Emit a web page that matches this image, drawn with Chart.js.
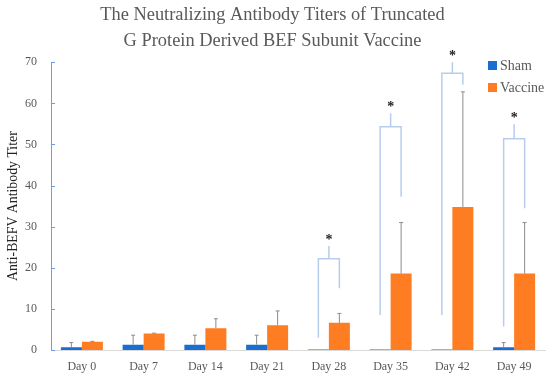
<!DOCTYPE html>
<html>
<head>
<meta charset="utf-8">
<script src="https://cdn.jsdelivr.net/npm/chart.js@4"></script>
<style>
  body { margin: 0; background: #fff; }
  #wrap { position: relative; width: 550px; height: 379px; }
  .legend { position: absolute; left: 488px; font: 14px "Liberation Serif", serif; color: #595959; }
  .legend span { display: inline-block; width: 9px; height: 9px; margin-right: 3px; }
</style>
</head>
<body>
<div id="wrap">
  <canvas id="myChart" width="550" height="379"></canvas>
  <div class="legend" style="top:58px"><span style="background:#1a6ecf"></span>Sham</div>
  <div class="legend" style="top:80px"><span style="background:#fe7d22"></span>Vaccine</div>
</div>
<script>
const days = ["Day 0", "Day 7", "Day 14", "Day 21", "Day 28", "Day 35", "Day 42", "Day 49"];
const sham = [0.65, 1.3, 1.3, 1.3, 0.15, 0.15, 0.15, 0.65];
const shamErrTop = [1.8, 3.6, 3.6, 3.6, null, null, null, 1.8];
const vaccine = [2.0, 4.0, 5.3, 6.0, 6.6, 18.6, 34.8, 18.6];
const vaccineErrTop = [2.1, 4.1, 7.6, 9.5, 8.9, 31.0, 62.8, 31.0];

// significance brackets (values on the y scale)
const bracketTop = [null, null, null, null, 22.2, 54.3, 67.3, 51.4];
const bracketLeftEnd = [null, null, null, null, 3.0, 8.5, 8.5, 5.7];
const bracketRightEnd = [null, null, null, null, 15.0, 37.3, 64.5, 34.5];
const stemTop = [null, null, null, null, 25.3, 57.6, 70.0, 54.9];

const serif = "'Liberation Serif', serif";

const annotate = {
  id: "annotate",
  afterDatasetsDraw(chart) {
    const ctx = chart.ctx;
    const y = chart.scales.y;
    const shamBars = chart.getDatasetMeta(0).data;
    const vacBars = chart.getDatasetMeta(1).data;
    ctx.save();

    // error bars
    ctx.strokeStyle = "#8c8c8c";
    ctx.lineWidth = 1;
    const drawErr = (bars, vals, tops) => {
      bars.forEach((bar, i) => {
        if (tops[i] == null) return;
        const y0 = y.getPixelForValue(vals[i]);
        const y1 = y.getPixelForValue(tops[i]);
        ctx.beginPath();
        ctx.moveTo(bar.x, y0);
        ctx.lineTo(bar.x, y1);
        ctx.moveTo(bar.x - 2, y1);
        ctx.lineTo(bar.x + 2, y1);
        ctx.stroke();
      });
    };
    drawErr(shamBars, sham, shamErrTop);
    drawErr(vacBars, vaccine, vaccineErrTop);

    // brackets + stars
    ctx.strokeStyle = "#b7cdee";
    ctx.lineWidth = 1.5;
    ctx.fillStyle = "#222";
    ctx.font = "bold 14px " + serif;
    ctx.textAlign = "center";
    ctx.textBaseline = "middle";
    for (let i = 0; i < days.length; i++) {
      if (bracketTop[i] == null) continue;
      const xl = shamBars[i].x;
      const xr = vacBars[i].x;
      const xm = (xl + xr) / 2;
      const yt = y.getPixelForValue(bracketTop[i]);
      const ys = y.getPixelForValue(stemTop[i]);
      ctx.beginPath();
      ctx.moveTo(xl, y.getPixelForValue(bracketLeftEnd[i]));
      ctx.lineTo(xl, yt);
      ctx.lineTo(xr, yt);
      ctx.lineTo(xr, y.getPixelForValue(bracketRightEnd[i]));
      ctx.moveTo(xm, yt);
      ctx.lineTo(xm, ys);
      ctx.stroke();
      ctx.fillText("*", xm, ys - 6);
    }

    // inward tick marks on the y axis
    ctx.strokeStyle = "#6a9fe6";
    ctx.lineWidth = 1;
    y.ticks.forEach((t) => {
      const py = Math.round(y.getPixelForValue(t.value)) + 0.5;
      ctx.beginPath();
      ctx.moveTo(y.right, py);
      ctx.lineTo(y.right + 4, py);
      ctx.stroke();
    });
    ctx.restore();
  },
};

new Chart(document.getElementById("myChart"), {
  type: "bar",
  data: {
    labels: days,
    datasets: [
      { label: "Sham", data: sham, backgroundColor: "#1a6ecf" },
      { label: "Vaccine", data: vaccine, backgroundColor: "#fe7d22" },
    ],
  },
  options: {
    responsive: false,
    animation: false,
    layout: { padding: { top: 0, right: 5, bottom: 5, left: 0 } },
    datasets: { bar: { categoryPercentage: 0.68, barPercentage: 1 } },
    scales: {
      x: {
        afterFit: (scale) => { scale.height = 24; },
        grid: { display: false, drawTicks: false },
        border: { color: "#d9d9d9" },
        ticks: { color: "#595959", padding: 10, font: { family: serif, size: 12 } },
      },
      y: {
        min: 0,
        max: 70,
        afterFit: (scale) => { scale.width = 51; },
        grid: { display: false, drawTicks: false },
        border: { color: "#6a9fe6" },
        ticks: { stepSize: 10, color: "#595959", padding: 14, font: { family: serif, size: 12 } },
        title: {
          display: true,
          text: "Anti-BEFV Antibody Titer",
          color: "#222",
          padding: { top: 5, bottom: 0 },
          font: { family: serif, size: 13.8 },
        },
      },
    },
    plugins: {
      legend: { display: false },
      tooltip: { enabled: false },
      title: {
        display: true,
        text: ["The Neutralizing Antibody Titers of Truncated", "G Protein Derived BEF Subunit Vaccine"],
        color: "#595959",
        padding: { top: 2, bottom: 8 },
        font: { family: serif, size: 18.4, weight: "normal", lineHeight: 1.42 },
      },
    },
  },
  plugins: [annotate],
});
</script>
</body>
</html>
